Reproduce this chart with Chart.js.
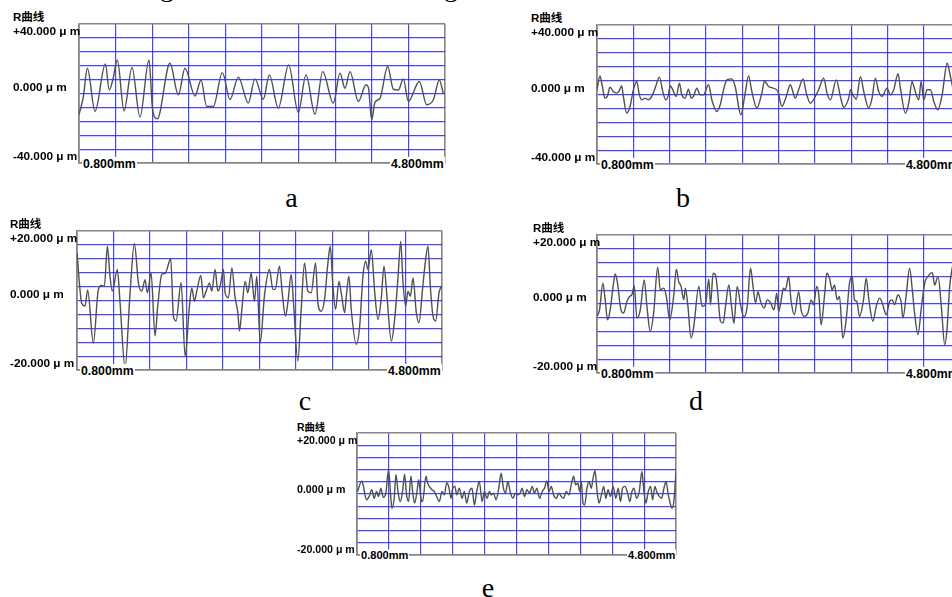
<!DOCTYPE html>
<html><head><meta charset="utf-8">
<script src="https://cdn.jsdelivr.net/npm/chart.js@4.4.1/dist/chart.umd.min.js"></script>
<style>
html,body{margin:0;padding:0;background:#fff;}
body{width:952px;height:597px;overflow:hidden;position:relative;font-family:"Liberation Sans","Noto Sans CJK SC",sans-serif;}
canvas{position:absolute;}
.lbl{position:absolute;white-space:nowrap;font-weight:bold;color:#000;line-height:1;transform:translateY(-50%);}
.xl{background:#fff;padding:1px 1px;}
.cap{position:absolute;font-family:"Liberation Serif","Times New Roman",serif;font-size:28px;line-height:28px;color:#000;white-space:nowrap;transform:translateX(-50%);}
</style></head><body>
<script>
// ---- tick / label arrays ----
const xTickValues = [0.3,0.8,1.3,1.8,2.3,2.8,3.3,3.8,4.3,4.8,5.3];
const yTicks40 = [-40,-32,-24,-16,-8,0,8,16,24,32,40];
const yTicks20 = [-20,-16,-12,-8,-4,0,4,8,12,16,20];
const yLabels40 = ['+40.000 μ m','0.000 μ m','-40.000 μ m'];
const yLabels20 = ['+20.000 μ m','0.000 μ m','-20.000 μ m'];
const xLabels = ['0.800mm','4.800mm'];
const curveTitle = 'R曲线';
const captions = ['a','b','c','d','e'];

// ---- profile a (mm, μm) ----
const aX = [0.300,0.359,0.414,0.519,0.660,0.714,0.760,0.824,0.915,1.024,1.133,1.256,1.306,1.370,1.543,1.657,1.748,1.885,1.967,2.044,2.135,2.258,2.363,2.477,2.613,2.704,2.818,2.900,3.023,3.164,3.296,3.401,3.524,3.629,3.774,3.866,3.934,4.002,4.116,4.221,4.253,4.298,4.344,4.412,4.517,4.594,4.663,4.731,4.799,4.949,5.050,5.141,5.223,5.277];
const aY = [-12.2,-2,14.5,-10.3,17.0,2,7.5,19.3,-10,15,-13.6,19.3,-9.5,-14.5,17.4,-0.8,14.5,-1.5,7.8,-7.5,-7.5,12,-3.5,9.4,-5.5,8.4,-3.3,10.7,-8.4,16.5,-11,10.7,-11.9,12.6,-5.5,11.7,3,12.6,-4.6,5,3.5,-15.1,-5,-2.8,15.5,2.5,2,8.4,-4.6,6.9,-6.5,-3.6,7.8,0];

// ---- profile b ----
const bX = [0.300,0.341,0.374,0.410,0.443,0.479,0.525,0.571,0.608,0.640,0.663,0.709,0.755,0.801,0.847,0.884,0.916,0.962,1.008,1.054,1.100,1.160,1.206,1.247,1.284,1.307,1.344,1.390,1.436,1.468,1.514,1.560,1.597,1.629,1.675,1.721,1.767,1.836,1.882,1.951,1.997,2.043,2.089,2.157,2.203,2.282,2.341,2.387,2.433,2.502,2.571,2.608,2.663,2.732,2.792,2.847,2.907,2.962,3.031,3.077,3.137,3.183,3.238,3.307,3.353,3.422,3.468,3.514,3.597,3.652,3.698,3.767,3.790,3.836,3.872,3.928,3.974,4.043,4.089,4.134,4.180,4.226,4.295,4.341,4.387,4.447,4.479,4.548,4.594,4.640,4.663,4.732,4.764,4.801,4.847,4.893,4.939,4.994,5.054,5.123,5.169,5.197];
const bY = [2.7,10.7,4.6,-2.1,-1.1,4.2,1.7,0.8,2.3,5.0,-1.1,-10.7,-6.9,2.7,7.5,-0.2,-3.1,-2.1,-3.1,-1.1,3.6,10.0,1.7,-3.1,-0.2,5.0,2.7,-1.1,6.5,-0.2,-2.1,3.1,-2.1,-1.1,3.6,-0.2,-0.2,5.6,-3.1,-9.8,-5.9,2.7,8.4,9.0,4.6,-11.7,0.8,10.7,1.7,-7.8,0.8,7.8,4.6,3.6,1.7,-6.9,-1.1,5.6,-2.1,2.7,9.0,0.8,-5.0,-1.1,2.7,9.4,0.8,-3.1,8.4,-1.1,-7.3,-2.1,2.7,-1.1,-2.7,10.3,1.7,-7.8,-2.1,9.4,1.7,-1.1,3.6,-0.2,2.7,11.9,3.6,-10.7,-4.9,7.5,4.6,-3.1,7.5,-3.1,2.7,2.7,-4.0,-8.8,-0.2,18.0,10.3,4.6];

// ---- profile c ----
const cX = [0.300,0.364,0.410,0.446,0.524,0.593,0.638,0.675,0.716,0.752,0.784,0.853,0.890,0.958,1.027,1.086,1.141,1.187,1.232,1.264,1.315,1.369,1.406,1.461,1.507,1.584,1.621,1.657,1.726,1.781,1.840,1.872,1.909,1.941,1.996,2.032,2.069,2.114,2.146,2.192,2.229,2.261,2.306,2.329,2.375,2.421,2.466,2.503,2.526,2.558,2.603,2.640,2.686,2.731,2.763,2.809,2.869,2.937,2.983,3.015,3.074,3.111,3.156,3.188,3.234,3.266,3.325,3.371,3.417,3.462,3.508,3.568,3.600,3.645,3.691,3.737,3.769,3.806,3.842,3.888,3.920,3.966,3.989,4.025,4.057,4.126,4.172,4.217,4.254,4.286,4.332,4.377,4.423,4.469,4.505,4.546,4.606,4.651,4.697,4.734,4.766,4.802,4.834,4.866,4.903,4.948,4.985,5.031,5.063,5.108,5.140,5.177,5.213,5.259,5.291];
const cY = [13.7,-0.7,-1.6,3.0,-12.3,3.2,4.3,4.1,15.6,7.0,2.7,8.9,-0.7,-19.3,2.2,16.4,5.1,2.7,6.0,2.2,7.9,-10.2,-1.6,7.5,7.8,12.0,-4.5,-5.9,5.1,-16.0,-1.6,3.6,-0.2,2.7,7.2,0.8,2.7,5.0,2.7,8.9,2.7,4.1,8.9,2.2,0.8,9.4,0.8,-3.5,-8.8,-2.6,5.5,2.2,7.9,-0.2,7.0,-12.2,1.6,8.9,3.2,3.2,9.9,2.2,-4.5,-0.7,7.5,-0.7,-17.4,-2.6,10.8,2.7,2.2,10.8,-0.7,-3.1,0.3,10.8,15.6,4.1,-2.6,5.5,2.2,-3.5,1.2,7.0,-2.6,-12.6,-7.4,7.0,11.3,8.9,14.6,2.7,-5.5,0.8,9.9,1.2,-11.7,-5.5,6.5,17.0,5.1,-1.6,2.7,1.2,6.5,-3.5,-6.4,2.7,9.4,15.6,4.1,-4.5,-5.9,2.2,4.1];

// ---- profile d ----
const dX = [0.300,0.335,0.381,0.413,0.445,0.482,0.519,0.551,0.583,0.629,0.666,0.712,0.749,0.781,0.813,0.850,0.896,0.951,0.988,1.034,1.080,1.136,1.172,1.219,1.255,1.301,1.356,1.393,1.425,1.458,1.495,1.518,1.550,1.596,1.633,1.702,1.748,1.794,1.840,1.863,1.900,1.932,1.955,2.001,2.038,2.070,2.116,2.153,2.186,2.231,2.277,2.323,2.369,2.415,2.452,2.484,2.517,2.553,2.600,2.646,2.692,2.738,2.775,2.802,2.834,2.867,2.894,2.940,2.972,3.018,3.078,3.111,3.157,3.203,3.249,3.281,3.327,3.355,3.387,3.433,3.465,3.502,3.539,3.571,3.608,3.640,3.686,3.732,3.778,3.815,3.847,3.879,3.916,3.971,4.008,4.045,4.100,4.146,4.192,4.229,4.284,4.330,4.367,4.399,4.445,4.491,4.514,4.560,4.606,4.643,4.675,4.721,4.767,4.813,4.859,4.919,4.951,4.997,5.043,5.089,5.121,5.158,5.195];
const dY = [-3.6,-1.7,6.0,1.2,-4.6,-1.7,4.6,8.7,6.0,-1.7,-2.6,0.7,2.2,2.7,5.3,-4.1,-1.7,7.0,-0.7,-8.0,-2.6,10.7,4.1,4.6,2.2,-4.6,2.2,10.1,6.5,5.1,1.2,4.6,-0.2,-9.9,-6.5,5.1,-0.7,-0.2,7.2,-0.2,8.9,8.4,5.1,-5.0,-5.5,-0.7,5.5,-0.7,-5.6,5.1,-0.2,-3.8,-0.7,10.4,4.6,0.3,3.6,0.7,-1.2,1.2,0.3,-1.7,3.1,-2.2,0.7,4.6,4.1,8.0,1.2,-3.1,3.6,-1.7,-3.6,-2.7,1.2,-0.2,5.1,2.7,-6.0,2.2,8.9,7.5,4.1,5.5,1.2,2.2,-9.9,-4.6,6.0,8.0,1.2,0.7,-3.6,1.2,7.5,1.2,-5.0,-0.7,1.7,0.3,-3.1,0.7,1.2,-0.2,2.6,0.3,-4.1,2.7,10.4,4.1,-2.7,-8.9,-1.2,6.0,8.0,9.1,5.5,8.0,-0.7,-11.8,-7.4,5.1,10.8];

// ---- profile e ----
const eX = [0.307,0.375,0.396,0.449,0.491,0.532,0.569,0.606,0.637,0.674,0.711,0.752,0.794,0.831,0.847,0.883,0.910,0.946,0.978,1.014,1.046,1.077,1.108,1.145,1.172,1.203,1.240,1.266,1.302,1.328,1.381,1.407,1.433,1.475,1.512,1.548,1.590,1.632,1.669,1.705,1.737,1.774,1.800,1.836,1.862,1.904,1.946,1.983,2.019,2.061,2.103,2.140,2.176,2.218,2.260,2.297,2.339,2.376,2.402,2.438,2.480,2.522,2.559,2.595,2.627,2.664,2.701,2.742,2.784,2.821,2.857,2.889,2.925,2.962,3.004,3.046,3.082,3.119,3.161,3.203,3.239,3.276,3.308,3.344,3.381,3.423,3.465,3.501,3.538,3.580,3.622,3.658,3.695,3.727,3.763,3.790,3.816,3.842,3.868,3.905,3.937,3.973,4.000,4.031,4.063,4.094,4.131,4.168,4.199,4.236,4.273,4.315,4.357,4.393,4.430,4.461,4.498,4.535,4.577,4.603,4.640,4.682,4.724,4.766,4.797,4.829,4.865,4.902,4.933,4.970,4.996,5.038,5.075,5.111,5.143,5.180,5.216,5.237,5.269,5.300];
const eY = [0.8,4.3,3.0,-1.9,-0.8,1.4,-1.4,0.8,-0.8,1.9,-1.1,0.3,7.9,-1.4,-4.7,-1.4,6.3,0.3,-2.5,0.8,6.5,-0.3,-2.5,5.8,0.8,-3.0,0.8,4.7,-1.4,-2.5,5.8,3.6,2.5,1.4,0.8,-0.8,-2.5,0.8,-0.3,3.6,2.5,-1.4,1.9,2.5,-0.3,1.9,-1.4,0.8,-3.0,0.8,1.9,-3.6,0.8,4.1,-2.5,0.8,-1.4,0.8,-0.3,0.3,-1.9,1.9,6.8,1.9,0.3,4.1,0.8,-1.4,0.3,-0.3,0.3,1.9,-0.8,1.4,0.3,2.5,0.3,1.9,-1.4,0.8,1.9,4.3,0.8,2.5,-0.3,-1.4,0.3,-0.8,-1.4,0.8,-0.3,3.0,5.8,3.0,3.6,0.8,4.1,-3.0,-3.6,1.9,4.1,1.9,5.2,7.6,0.8,-3.0,-0.3,2.5,-1.4,1.4,-0.8,2.5,-1.4,1.9,-2.5,1.9,2.5,0.8,-2.5,0.3,1.9,-1.4,0.8,7.4,0.8,-3.0,0.8,2.5,-1.9,2.5,0.8,-0.8,-1.4,1.9,4.1,-0.3,-3.6,-4.7,-1.9,7.4];

// ---- layout (positions / styles) ----
const BLUE = 'rgba(30,30,240,0.82)';
const GRAY = '#858585';
const panels = [
  {box:[79,24,366,139],  yMax:40, yTicks:yTicks40, yLabels:yLabels40, xs:aX, ys:aY, k:1,    off:66, cap:[291.5,207]},
  {box:[597,25,363,139], yMax:40, yTicks:yTicks40, yLabels:yLabels40, xs:bX, ys:bY, k:1,    off:66, cap:[683,207]},
  {box:[77,231,365,139], yMax:20, yTicks:yTicks20, yLabels:yLabels20, xs:cX, ys:cY, k:1,    off:67, cap:[305,410]},
  {box:[597,235,363,138],yMax:20, yTicks:yTicks20, yLabels:yLabels20, xs:dX, ys:dY, k:1,    off:64, cap:[696,410]},
  {box:[357,433,319,122],yMax:20, yTicks:yTicks20, yLabels:yLabels20, xs:eX, ys:eY, k:0.9,  off:60, cap:[488,597]}
];

function addDiv(cls, text, left, top, fs){
  const d=document.createElement('div');
  d.className=cls; d.textContent=text;
  d.style.left=left+'px'; d.style.top=top+'px';
  if(fs) d.style.fontSize=fs+'px';
  document.body.appendChild(d);
  return d;
}

function makePanel(p, idx){
  const pad=3;
  const cv=document.createElement('canvas');
  cv.width=p.box[2]+2*pad; cv.height=p.box[3]+2*pad;
  cv.style.width=cv.width+'px'; cv.style.height=cv.height+'px';
  const cl=p.box[0]-pad, ct=p.box[1]-pad;
  cv.style.left=cl+'px'; cv.style.top=ct+'px';
  document.body.appendChild(cv);
  const pts=p.xs.map((x,i)=>({x:x,y:p.ys[i]}));
  const xFirst=xTickValues[0], xLast=xTickValues[xTickValues.length-1];
  const chart=new Chart(cv,{
    type:'line',
    data:{datasets:[{data:pts,borderColor:'#505050',borderWidth:1.4,pointRadius:0,cubicInterpolationMode:'monotone',fill:false}]},
    options:{
      responsive:false, animation:false, devicePixelRatio:1, events:[],
      layout:{padding:pad},
      plugins:{legend:{display:false},tooltip:{enabled:false}},
      scales:{
        x:{type:'linear',min:xFirst,max:xLast,
           afterBuildTicks:s=>{s.ticks=xTickValues.map(v=>({value:v}));},
           afterFit:s=>{s.height=0;},
           ticks:{display:false},
           grid:{drawTicks:false,
                 color:c=>(c.tick&&(Math.abs(c.tick.value-xFirst)<1e-6||Math.abs(c.tick.value-xLast)<1e-6))?GRAY:BLUE,
                 lineWidth:c=>(c.tick&&(Math.abs(c.tick.value-xFirst)<1e-6||Math.abs(c.tick.value-xLast)<1e-6))?1.6:1.2},
           border:{display:true,color:GRAY,width:1.6}},
        y:{type:'linear',min:-p.yMax,max:p.yMax,
           afterBuildTicks:s=>{s.ticks=p.yTicks.map(v=>({value:v}));},
           afterFit:s=>{s.width=0;},
           ticks:{display:false},
           grid:{drawTicks:false,
                 color:c=>(c.tick&&Math.abs(Math.abs(c.tick.value)-p.yMax)<1e-6)?GRAY:BLUE,
                 lineWidth:c=>(c.tick&&Math.abs(Math.abs(c.tick.value)-p.yMax)<1e-6)?1.6:1.2},
           border:{display:true,color:GRAY,width:1.6}}
      }
    }
  });
  const ca=chart.chartArea, ys=chart.scales.y;
  const L=cl+ca.left, R=cl+ca.right, T=ct+ca.top, B=ct+ca.bottom;
  const k=p.k, fs=11.8*k, fx=12.3*k;
  const lx=L-p.off;
  addDiv('lbl', curveTitle, lx, T-6*k, 11.5*k);
  addDiv('lbl', p.yLabels[0], lx, ct+ys.getPixelForValue(p.yMax)+7.5*k, fs);
  addDiv('lbl', p.yLabels[1], lx, ct+ys.getPixelForValue(0)-6*k, fs);
  addDiv('lbl', p.yLabels[2], lx, ct+ys.getPixelForValue(-p.yMax)-6.5*k, fs);
  addDiv('lbl xl', xLabels[0], L+3, B+0.5, fx);
  const r=addDiv('lbl xl', xLabels[1], 0, B+0.5, fx);
  r.style.left=(R-r.offsetWidth)+'px';
  addDiv('cap', captions[idx], p.cap[0], p.cap[1]-23.45);
}
panels.forEach(makePanel);

// fragments of the line of text above (only descenders visible)
[['g',160],[',',246],['g',444]].forEach(f=>{
  const d=addDiv('cap', f[0], f[1], -27.5);
  d.style.transform='none';
});
</script>
</body></html>
